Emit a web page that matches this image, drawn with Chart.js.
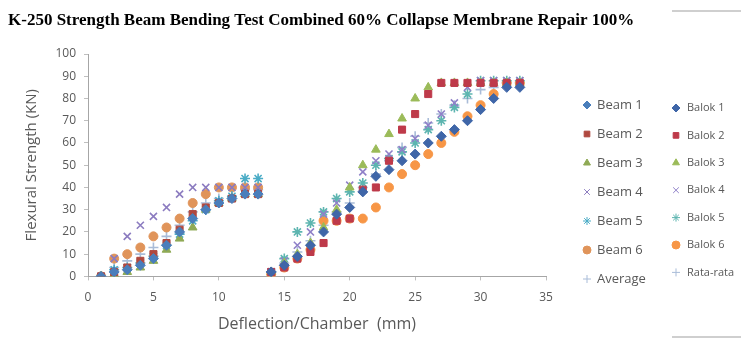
<!DOCTYPE html>
<html>
<head>
<meta charset="utf-8">
<script src="https://cdn.jsdelivr.net/npm/chart.js@4/dist/chart.umd.min.js"></script>
<style>
  body { margin: 0; background: #fff; }
  #wrap { width: 741px; height: 343px; }
</style>
</head>
<body>
<div id="wrap"><canvas id="chartBeam" width="741" height="343"></canvas></div>
<script>
// deflection (mm) for the two groups of tests
const beamX = [1, 2, 3, 4, 5, 6, 7, 8, 9, 10, 11, 12, 13]
const balokX = [14, 15, 16, 17, 18, 19, 20, 21, 22, 23, 24, 25, 26, 27, 28, 29, 30, 31, 32, 33]

// collapse 60% (Beam)
const beam1 = [0, 2, 3, 5, 8, 14, 20, 26, 30, 33, 35, 37, 37]
const beam2 = [0, 2, 4, 7, 10, 15, 21, 28, 31, 33, 35, 37, 37]
const beam3 = [0, 1, 2, 4, 7, 12, 17, 22, 30, 33, 35, 37, 37]
const beam4 = [0, 8, 18, 23, 27, 31, 37, 40, 40, 40, 40, 40, 40]
const beam5 = [0, 3, 4, 6, 9, 14, 19, 25, 30, 34, 36, 44, 44]
const beam6 = [0, 8, 10, 13, 18, 22, 26, 33, 37, 40, 40, 40, 40]
const beamAvg = [0, 4, 7, 10, 13, 18, 23, 29, 33, 35, 36, 39, 39]

// membrane repair 100% (Balok)
const balok1 = [2, 5, 9, 14, 20, 28, 31, 38, 45, 48, 52, 55, 60, 63, 66, 70, 75, 80, 85, 85]
const balok2 = [2, 4, 8, 11, 15, 25, 26, 39, 40, 52, 66, 73, 82, 87, 87, 87, 87, 87, 87, 87]
const balok3 = [2, 6, 10, 15, 22, 30, 40, 50, 57, 64, 71, 80, 85, 87, 87, 87, 87, 87, 87, 87]
const balok4 = [2, 7, 14, 20, 28, 33, 41, 47, 52, 55, 57, 62, 68, 73, 78, 85, 88, 88, 88, 88]
const balok5 = [2, 8, 20, 24, 29, 35, 38, 42, 50, 53, 56, 60, 66, 70, 76, 82, 88, 88, 88, 88]
const balok6 = [1, 4, 8, 12, 25, 25, 26, 26, 31, 40, 46, 50, 55, 60, 65, 72, 77, 82, 87, 87]
const balokAvg = [2, 6, 11, 16, 23, 29, 33, 40, 46, 52, 58, 63, 69, 73, 77, 80, 84, 85, 87, 87]

const beamNames = ['Beam 1', 'Beam 2', 'Beam 3', 'Beam 4', 'Beam 5', 'Beam 6', 'Average']
const balokNames = ['Balok 1', 'Balok 2', 'Balok 3', 'Balok 4', 'Balok 5', 'Balok 6', 'Rata-rata']
const chartTitle = 'K-250 Strength Beam Bending Test Combined 60% Collapse Membrane Repair 100%'

const styles = ['rectRot', 'rect', 'triangle', 'crossRot', 'star', 'circle', 'cross']
const beamColors = ['#4A7EBB', '#B0483F', '#8FAA55', '#8C7CC0', '#4BACC6', '#E0945A', '#A9BCD8']
const balokColors = ['#3F66A8', '#BE3A4A', '#9BBB59', '#8F80C8', '#5DB5B0', '#F79646', '#A9BCD8']

const pts = (xs, ys) => xs.map((x, i) => ({ x: x, y: ys[i] }))

const makeSet = (label, xs, ys, style, color) => {
  const lineStyle = (style == 'crossRot' || style == 'cross' || style == 'star')
  return {
    label: label,
    data: pts(xs, ys),
    showLine: false,
    pointStyle: style,
    pointRadius: style == 'circle' ? 4.5 : 5,
    pointHoverRadius: 5,
    backgroundColor: color,
    borderColor: color,
    borderWidth: lineStyle ? 1.6 : 1
  }
}

const beamData = [beam1, beam2, beam3, beam4, beam5, beam6, beamAvg]
const balokData = [balok1, balok2, balok3, balok4, balok5, balok6, balokAvg]

let datasets = []
beamData.forEach((d, i) => datasets.push(makeSet(beamNames[i], beamX, d, styles[i], beamColors[i])))
balokData.forEach((d, i) => datasets.push(makeSet(balokNames[i], balokX, d, styles[i], balokColors[i])))

// title, two legend columns and frame lines on the right
const sideLegend = {
  id: 'sideLegend',
  afterDraw(chart) {
    const ctx = chart.ctx

    ctx.save()
    ctx.fillStyle = '#000'
    ctx.font = 'bold 17px "Liberation Serif"'
    ctx.textBaseline = 'middle'
    ctx.fillText(chartTitle, 8, 21)
    ctx.restore()

    const drawCol = (names, colors, mx, tx, y0, step, font) => {
      names.forEach((name, i) => {
        const y = y0 + i * step
        const st = styles[i]
        ctx.save()
        ctx.fillStyle = colors[i]
        ctx.strokeStyle = colors[i]
        Chart.helpers.drawPoint(ctx, {
          pointStyle: st,
          radius: 4,
          rotation: 0,
          borderWidth: (st == 'crossRot' || st == 'cross' || st == 'star') ? 1.5 : 1
        }, mx, y)
        ctx.restore()
        ctx.save()
        ctx.fillStyle = '#595959'
        ctx.font = font
        ctx.textBaseline = 'middle'
        ctx.fillText(name, tx, y)
        ctx.restore()
      })
    }
    drawCol(beamNames, beamColors, 587, 597, 105, 29, '13px "Open Sans"')
    drawCol(balokNames, balokColors, 676, 687, 108, 27.4, '11px "Open Sans"')

    ctx.save()
    ctx.strokeStyle = '#CFCFCF'
    ctx.lineWidth = 2
    ctx.beginPath()
    ctx.moveTo(672, 11); ctx.lineTo(741, 11)
    ctx.moveTo(672, 337); ctx.lineTo(741, 337)
    ctx.stroke()
    ctx.restore()
  }
}

const tickFont = { family: '"Open Sans"', size: 12 }

window.onload = () => {
  new Chart(document.getElementById('chartBeam'), {
    type: 'scatter',
    data: { datasets: datasets },
    options: {
      responsive: false,
      animation: false,
      layout: { padding: { left: 8, right: 195, top: 54, bottom: 5 } },
      plugins: {
        legend: { display: false },
        tooltip: { enabled: false },
        title: { display: false }
      },
      scales: {
        x: {
          type: 'linear',
          min: 0,
          max: 35,
          ticks: { stepSize: 5, color: '#595959', font: tickFont, padding: 10 },
          grid: { display: true, drawOnChartArea: false, tickLength: 4, color: '#BFBFBF' },
          border: { color: '#A6A6A6' },
          title: { display: true, text: 'Deflection/Chamber  (mm)', color: '#595959', font: { family: '"Open Sans"', size: 16 }, padding: { top: 0 } }
        },
        y: {
          min: 0,
          max: 100,
          afterFit: (scale) => { scale.width = 80 },
          ticks: { stepSize: 10, color: '#595959', font: tickFont, padding: 8 },
          grid: { display: true, drawOnChartArea: false, tickLength: 4, color: '#BFBFBF' },
          border: { color: '#A6A6A6' },
          title: { display: true, text: 'Flexural Strength (KN)', color: '#595959', font: { family: '"Open Sans"', size: 15 }, padding: { top: 15, bottom: 0 } }
        }
      }
    },
    plugins: [sideLegend]
  })
}
</script>
</body>
</html>
